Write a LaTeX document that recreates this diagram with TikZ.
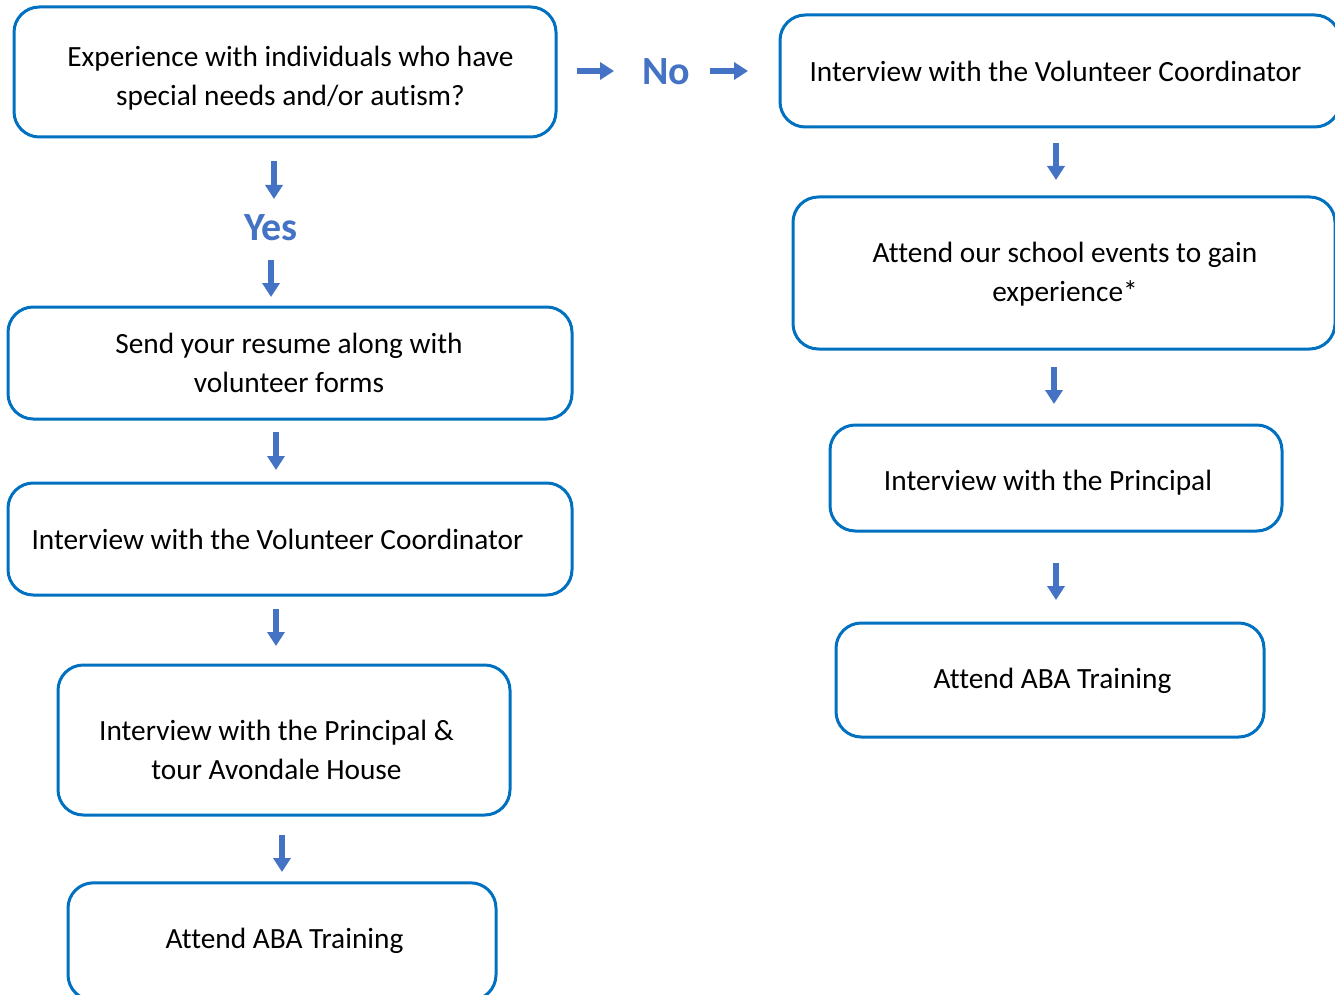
\documentclass[tikz,border=0pt]{standalone}
\usepackage{fontspec}
\setmainfont{Carlito}[Ligatures=NoCommon]
\usetikzlibrary{arrows.meta}
\definecolor{boxblue}{HTML}{0070C0}
\definecolor{arrowblue}{HTML}{4472C4}
\begin{document}
\begin{tikzpicture}[x=0.75pt, y=-0.75pt,
    step box/.style={draw=boxblue, line width=2.25pt, rounded corners=19pt, inner sep=0pt},
    step text/.style={align=center, font=\fontsize{22}{29.25}\selectfont, inner sep=0pt},
    answer/.style={text=arrowblue, font=\fontsize{30}{32}\selectfont\bfseries},
    flow/.style={draw=arrowblue, line width=4.5pt, -{Triangle[width=12.75pt, length=10.5pt]}}]
    \useasboundingbox (0,0) rectangle (1335,995);

    % left column (yes)
    \node[step box, minimum width=406.5pt, minimum height=97.5pt] (exp) at (285,72) {};
    \node[step text] (exp-t) at (290.5,78.5) {Experience with individuals who have\\special needs and/or autism?};
    \node[answer] (yes) at (271,228) {Yes};
    \node[step box, minimum width=423pt, minimum height=84pt] (resume) at (290,363) {};
    \node[step text] (resume-t) at (289,363) {Send your resume along with\\volunteer forms};
    \node[step box, minimum width=423pt, minimum height=84pt] (coordL) at (290,539) {};
    \node[step text] (coordL-t) at (277.5,539) {Interview with the Volunteer Coordinator};
    \node[step box, minimum width=339pt, minimum height=112.5pt] (tour) at (284,740) {};
    \node[step text] (tour-t) at (276.5,749.5) {Interview with the Principal \&\\tour Avondale House};
    \node[step box, minimum width=321pt, minimum height=88pt] (abaL) at (282,941.5) {};
    \node[step text] (abaL-t) at (284.5,941) {Attend ABA Training};

    % right column (no)
    \node[answer] (no) at (666,72) {No};
    \node[step box, minimum width=420pt, minimum height=84pt] (coordR) at (1060,71) {};
    \node[step text] (coordR-t) at (1055.5,71) {Interview with the Volunteer Coordinator};
    \node[step box, minimum width=406.5pt, minimum height=114pt] (events) at (1064,273) {};
    \node[step text] (events-t) at (1065,274.5) {Attend our school events to gain\\experience*};
    \node[step box, minimum width=339pt, minimum height=79.5pt] (principal) at (1056,478) {};
    \node[step text] (principal-t) at (1048,483) {Interview with the Principal};
    \node[step box, minimum width=321pt, minimum height=85.5pt] (abaR) at (1050,680) {};
    \node[step text] (abaR-t) at (1052.5,681) {Attend ABA Training};

    % arrows
    \foreach \n/\xa/\ya/\xb/\yb in {ya/274/161/274/199, yb/271/260/271/297, yc/276/432/276/470,
        yd/276/609/276/646, ye/282/835/282/872, na/577/71/614/71, nb/710/71/748/71,
        nc/1056/143/1056/180, nd/1054/367/1054/404, ne/1056/563/1056/600}
        {
            \coordinate (\n-s) at (\xa,\ya);
            \coordinate (\n-e) at (\xb,\yb);
            \draw[flow] (\n-s) -- (\n-e);
        }
\end{tikzpicture}
\end{document}
